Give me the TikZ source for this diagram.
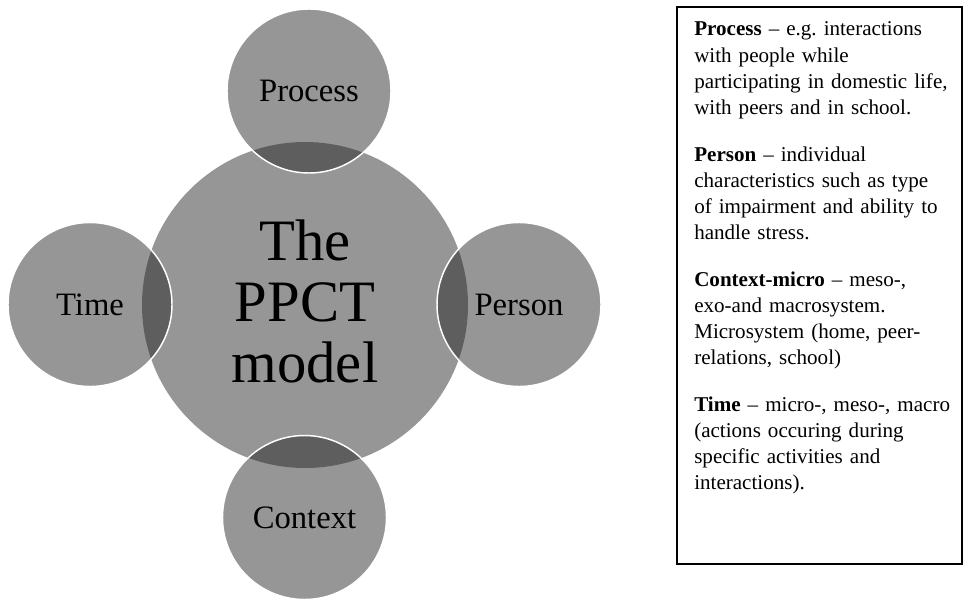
\documentclass[tikz,border=0pt]{standalone}
\usepackage{fontspec}
\setmainfont{Liberation Serif}
\definecolor{hubgray}{RGB}{150,150,150}
\definecolor{satgray}{RGB}{34,34,34}
\frenchspacing

\begin{document}
\begin{tikzpicture}[x=0.75pt, y=-0.75pt,
hub/.style={circle, inner sep=0pt, minimum size=244.5pt, fill=hubgray,
  align=center, text depth=6pt, font=\fontsize{44}{46}\selectfont},
sat/.style={circle, inner sep=0pt, minimum size=123pt, fill=satgray,
  fill opacity=0.476, text opacity=1, draw=white, line width=1.1pt,
  font=\fontsize{24.5}{29}\selectfont},
legend/.style={black, line width=1.1pt},
notes/.style={anchor=base west, inner sep=0pt, text width=205pt,
  align=left, font=\fontsize{15.8}{19.7}\selectfont}]

\useasboundingbox (0,0) rectangle (963,599);

% CENTRE CIRCLE
\node[hub] (model) at (305,305) {The\\PPCT\\model};

% SATELLITES (overlap gets darker through the opacity)
\node[sat] (process) at (309,91) {Process};
\node[sat] (person) at (519,304.5) {Person};
\node[sat] (context) at (304.5,517.5) {Context};
\node[sat] (time) at (90,304.5) {Time};

% LEGEND BOX
\draw[legend] (677,7) rectangle (962,564);
\node[notes] (legendtext) at (694,36) {%
\textbf{Process} – e.g. interactions\\
with people while\\
participating in domestic life,\\
with peers and in school.\\[15pt]
\textbf{Person} – individual\\
characteristics such as type\\
of impairment and ability to\\
handle stress.\\[15pt]
\textbf{Context-micro} – meso-,\\
exo-and macrosystem.\\
Microsystem (home, peer-\\
relations, school)\\[15pt]
\textbf{Time} – micro-, meso-, macro\\
(actions occuring during\\
specific activities and\\
interactions).};

\end{tikzpicture}
\end{document}
